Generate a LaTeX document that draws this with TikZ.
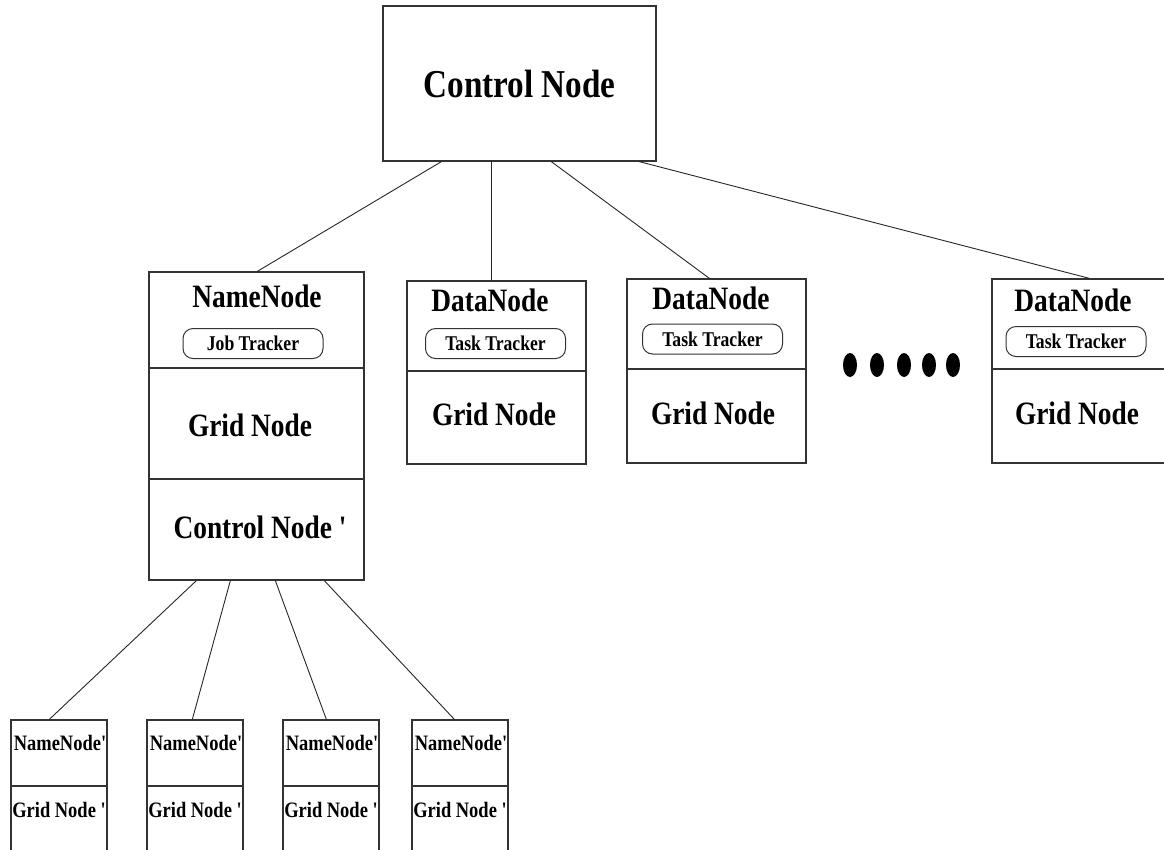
\documentclass[tikz,border=0pt]{standalone}
\usepackage{fontspec}
\setmainfont{Liberation Serif}[Ligatures=TeXOff,FakeStretch=0.84]
\usetikzlibrary{calc}

\begin{document}
\begin{tikzpicture}[x=1pt,y=-1pt,
	part/.style={draw=black!80,line width=1.3pt,inner sep=0pt,minimum width=#1},
	tracker/.style={draw=black!80,line width=1pt,rounded corners=10pt,inner sep=0pt,
		minimum width=140,minimum height=30,font=\fontsize{21}{24}\selectfont\bfseries},
	huge/.style={font=\fontsize{39.5}{42}\selectfont\bfseries},
	big/.style={font=\fontsize{32.6}{35}\selectfont\bfseries},
	small/.style={font=\fontsize{22}{25}\selectfont\bfseries},
	link/.style={draw=black!85,line width=0.9pt}]
	\useasboundingbox (0,0) rectangle (1164,849);
	
	% top
	\node[part=273,minimum height=155,huge] (ctrl) at (519.5,83.5) {Control Node};
	
	% name node with its three parts
	\node[part=215,minimum height=96]  (nn)     at (256.5,320)   {};
	\node[part=215,minimum height=111] (nngrid) at (256.5,423.5) {};
	\node[part=215,minimum height=101] (nnctrl) at (256.5,529.5) {};
	\node[big]     (nnname)    at (257,296)   {NameNode};
	\node[tracker] (job)       at (253,343.5) {Job Tracker};
	\node[big]     (nngridtxt) at (250,425)   {Grid Node};
	\node[big]     (nnctrltxt) at (260,527)   {Control Node '};
	
	% data nodes
	\node[part=179,minimum height=90] (dn1)     at (496.5,326)   {};
	\node[part=179,minimum height=93] (dn1grid) at (496.5,417.5) {};
	\node[big]     (dn1name) at (490,300)   {DataNode};
	\node[tracker] (task1)   at (495.5,343.5) {Task Tracker};
	\node[big]     (dn1txt)  at (494,414)   {Grid Node};
	
	\node[part=179,minimum height=90] (dn2)     at (716.5,324) {};
	\node[part=179,minimum height=94] (dn2grid) at (716.5,416) {};
	\node[big]     (dn2name) at (711,298)   {DataNode};
	\node[tracker] (task2)   at (712.5,339) {Task Tracker};
	\node[big]     (dn2txt)  at (713,413)   {Grid Node};
	
	\node[part=179,minimum height=90] (dn3)     at (1081.5,324) {};
	\node[part=179,minimum height=94] (dn3grid) at (1081.5,416) {};
	\node[big]     (dn3name) at (1073,300)   {DataNode};
	\node[tracker] (task3)   at (1076,341.5) {Task Tracker};
	\node[big]     (dn3txt)  at (1077,413)   {Grid Node};
	
	\foreach \x in {850,877,904,929,953}
		\fill (\x,365) ellipse (7pt and 12pt);
	
	\draw[link] ($(ctrl.south west)+(59,0)$)  -- ($(nn.north west)+(109,0)$);
	\draw[link] ($(ctrl.south west)+(109,0)$) -- ($(dn1.north west)+(85,0)$);
	\draw[link] ($(ctrl.south west)+(169,0)$) -- ($(dn2.north west)+(83,0)$);
	\draw[link] ($(ctrl.south west)+(257,0)$) -- ($(dn3.north west)+(98,0)$);
	
	% bottom row
	\foreach \i/\x/\a/\b in {1/59/48/39, 2/195/82/46, 3/331/127/44, 4/460/176/43}{
		\node[part=96,minimum height=66]  (bn\i)     at (\x,753) {};
		\node[part=96,minimum height=114] (bn\i grid) at (\x,843) {};
		\node[small] (bn\i name) at (\x+1,743) {NameNode'};
		\node[small] (bn\i txt)  at (\x,810)   {Grid Node '};
		\draw[link] ($(nnctrl.south west)+(\a,0)$) -- ($(bn\i.north west)+(\b,0)$);
	}
\end{tikzpicture}
\end{document}
